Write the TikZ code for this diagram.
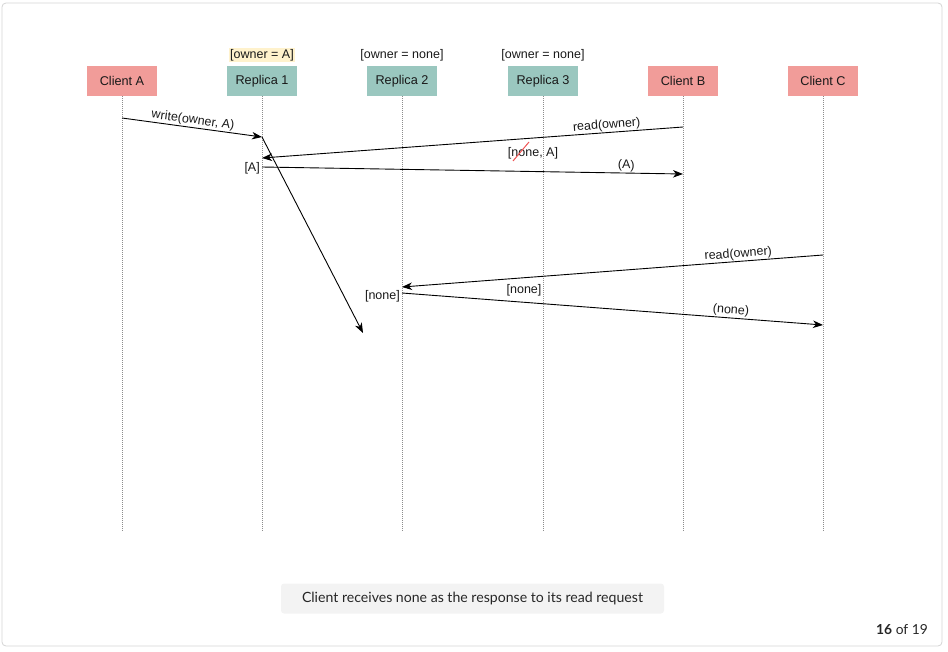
\documentclass[tikz,border=0pt]{standalone}
\usepackage{fontspec}
\setmainfont{Liberation Sans}
\newfontfamily\capfont{Lato}
\usetikzlibrary{arrows.meta}
\definecolor{clientfill}{HTML}{F19C99}
\definecolor{replicafill}{HTML}{9AC7BF}
\definecolor{notefill}{HTML}{FFF2CC}
\definecolor{capfill}{HTML}{F3F3F3}
\definecolor{framegray}{HTML}{D4D4D4}
\definecolor{lifegray}{HTML}{8C8C8C}
\definecolor{strike}{HTML}{EE5555}
\tikzset{
  actor/.style={minimum width=70pt, minimum height=30pt, inner sep=0pt,
    font=\fontsize{12.7}{14}\selectfont, text=black!90},
  client/.style={actor, fill=clientfill},
  replica/.style={actor, fill=replicafill},
  statelabel/.style={inner sep=1pt, font=\fontsize{12.5}{14}\selectfont, text=black!90},
  msglabel/.style={inner sep=1pt, font=\fontsize{12.5}{14}\selectfont, text=black!90},
  lifeline/.style={draw=lifegray, line width=0.7pt, dash pattern=on 1pt off 1pt},
  msg/.style={draw=black, line width=0.9pt, -{Stealth[length=10pt,width=7.5pt,inset=3pt]}},
}
\begin{document}
\begin{tikzpicture}[x=1pt, y=-1pt]
  \useasboundingbox (0,0) rectangle (948,651);
  % outer frame
  \draw[framegray, line width=0.8pt, rounded corners=4pt] (2,3) rectangle (942,646);

  % participants
  \node[client]  (ca) at (122,81) {Client A};
  \node[replica] (r1) at (262,81) {Replica 1};
  \node[replica] (r2) at (402,81) {Replica 2};
  \node[replica] (r3) at (543,81) {Replica 3};
  \node[client]  (cb) at (683,81) {Client B};
  \node[client]  (cc) at (823,81) {Client C};

  % replica states
  \node[statelabel, fill=notefill] (s1) at (262,55) {[owner = A]};
  \node[statelabel] (s2) at (402,55) {[owner = none]};
  \node[statelabel] (s3) at (543,55) {[owner = none]};

  % lifeline ends
  \coordinate (caE) at (122,532);
  \coordinate (r1E) at (262,532);
  \coordinate (r2E) at (402,532);
  \coordinate (r3E) at (543,532);
  \coordinate (cbE) at (683,532);
  \coordinate (ccE) at (823,532);
  \foreach \p in {ca,r1,r2,r3,cb,cc}
    \draw[lifeline] (\p.south) -- (\p E);

  % message end points on the lifelines
  \coordinate (caW)  at (122,118);
  \coordinate (r1W)  at (262,137);
  \coordinate (cbR)  at (683,127);
  \coordinate (r1R)  at (262,158);
  \coordinate (r1A)  at (262,167);
  \coordinate (cbA)  at (683,174);
  \coordinate (lost) at (363,333);
  \coordinate (ccR)  at (823,255);
  \coordinate (r2R)  at (402,287);
  \coordinate (r2N)  at (402,293);
  \coordinate (ccN)  at (823,325);

  % Client A writes to Replica 1
  \draw[msg] (caW) -- node[msglabel, sloped, above, pos=0.5] {write(owner, A)} (r1W);
  % replication to Replica 2 that never arrives
  \draw[msg] (r1W) -- (lost);
  % Client B reads from Replica 1
  \draw[msg] (cbR) -- node[msglabel, sloped, above, pos=0.18] {read(owner)} (r1R);
  \node[msglabel, anchor=east] (ra) at (261,168) {[A]};
  \draw[msg] (r1A) -- node[msglabel, sloped, above, pos=0.865] {(A)} (cbA);
  \node[msglabel] (r3s) at (533,153) {[none, A]};
  \draw[strike, line width=1pt] (513,161) -- (529,142);

  % Client C reads from Replica 2
  \draw[msg] (ccR) -- node[msglabel, sloped, above, pos=0.2] {read(owner)} (r2R);
  \node[msglabel, anchor=east] (rn) at (401,296) {[none]};
  \node[msglabel] (r3n) at (524,290) {[none]};
  \draw[msg] (r2N) -- node[msglabel, sloped, above, pos=0.78] {(none)} (ccN);

  % caption and page counter
  \node[fill=capfill, rounded corners=3pt, minimum width=383pt, minimum height=30pt,
        inner sep=0pt, font=\capfont\fontsize{14.1}{16}\selectfont, text=black!85]
        (cap) at (472.5,598.5) {Client receives none as the response to its read request};
  \node[anchor=east, inner sep=0pt, font=\capfont\fontsize{13.8}{16}\selectfont, text=black!85]
        (pg) at (928,630) {\textbf{16} of 19};
\end{tikzpicture}
\end{document}
